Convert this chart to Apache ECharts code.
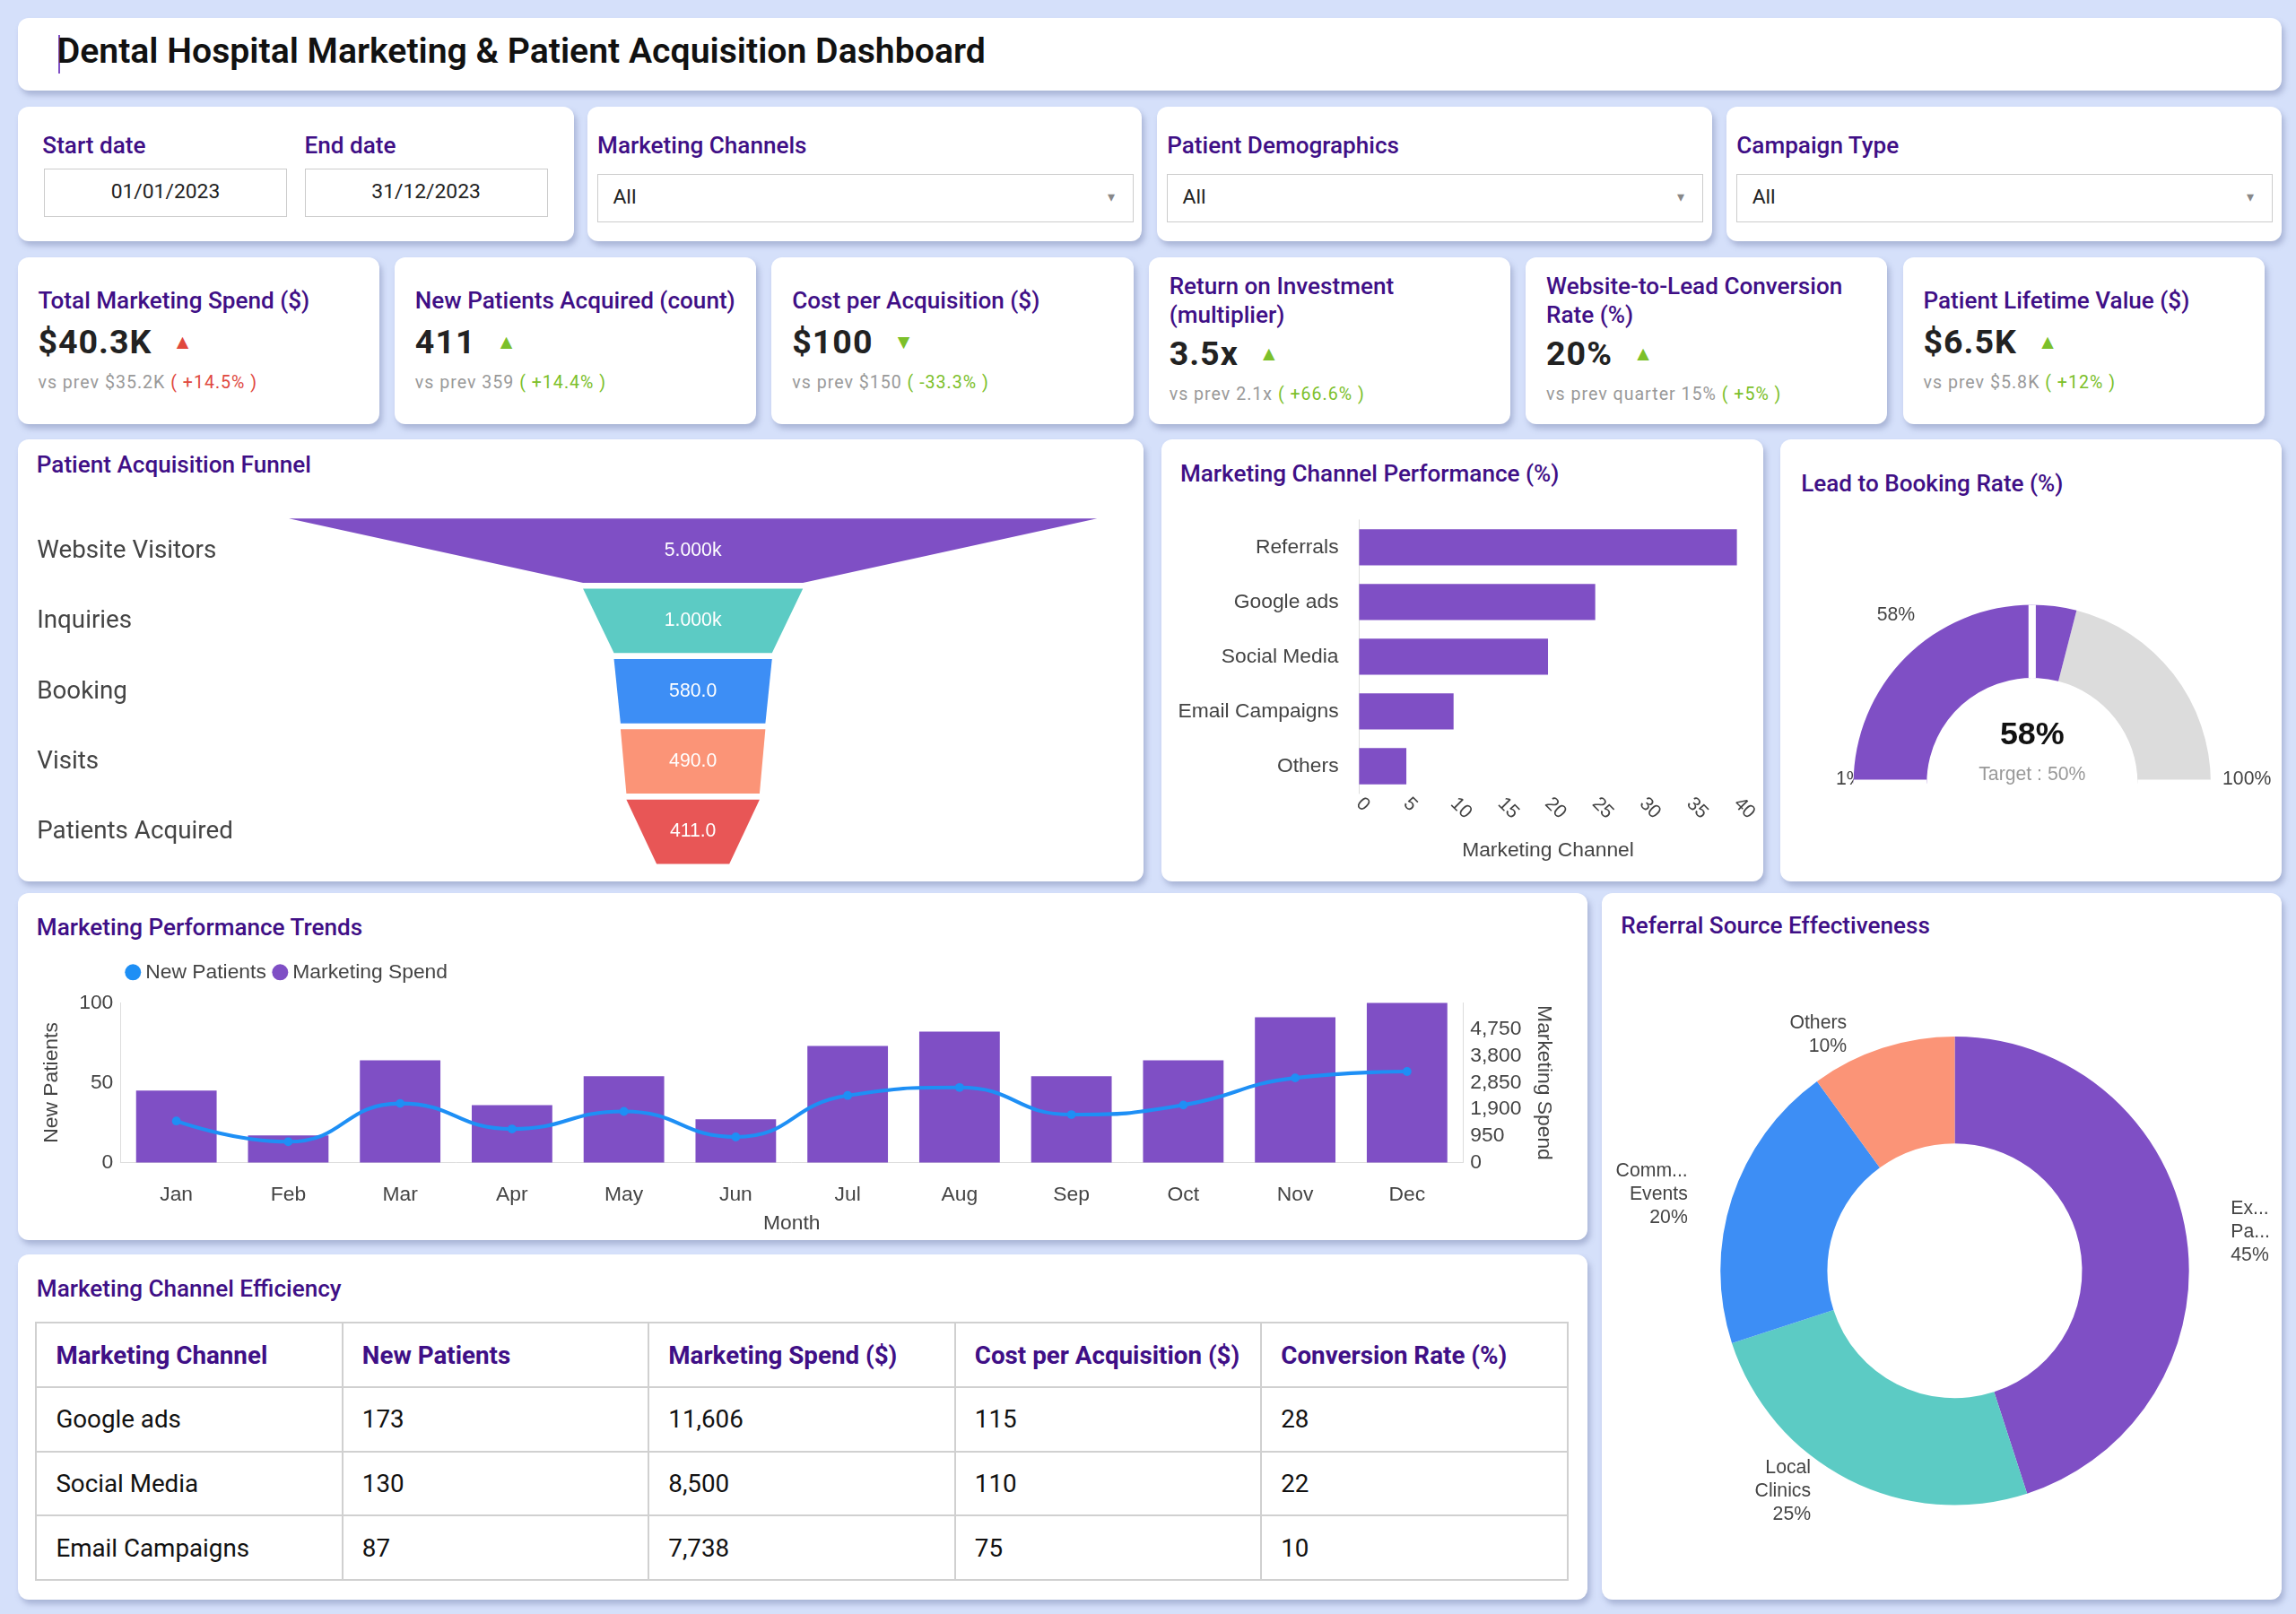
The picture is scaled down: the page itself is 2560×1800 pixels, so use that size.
<!DOCTYPE html>
<html>
<head>
<meta charset="utf-8">
<script src="https://cdn.jsdelivr.net/npm/echarts@6/dist/echarts.min.js"></script>
<style>
  body { margin: 0; background: #d5e0fa; font-family: Roboto, "Noto Sans", sans-serif; }
  #root { position: relative; width: 2560px; height: 1800px; overflow: hidden; }
  .panel { position: absolute; background: #fff; border-radius: 12px; box-shadow: 3px 5px 6px rgba(90,100,150,0.35); box-sizing: border-box; }
  .ttl { position: absolute; color: #3f0f86; font-weight: 500; }
  .abs { position: absolute; }
  table { border-collapse: collapse; }
  td, th { border: 2px solid #d0d0d0; text-align: left; }
  th { color: #3f0f86; font-weight: 700; }
</style>
</head>
<body>
<div id="root"></div>
<script>
// scale from the sketch coordinates to the 2560 px page
const S = 2560 / 1568

// ---- data ----
const funnelStages = ['Website Visitors', 'Inquiries', 'Booking', 'Visits', 'Patients Acquired']
const funnelValues = [5000, 1000, 580, 490, 411]
const funnelLabels = ['5.000k', '1.000k', '580.0', '490.0', '411.0']
const funnelColors = ['#7f4fc5', '#5ccbc4', '#3d8ef5', '#fb9477', '#e85656']

const channelNames = ['Referrals', 'Google ads', 'Social Media', 'Email Campaigns', 'Others']
const channelPerf = [40, 25, 20, 10, 5]

const bookingRate = 58
const bookingTarget = 50

const months = ['Jan', 'Feb', 'Mar', 'Apr', 'May', 'Jun', 'Jul', 'Aug', 'Sep', 'Oct', 'Nov', 'Dec']
const newPatients = [26, 13, 37, 21, 32, 16, 42, 47, 30, 36, 53, 57]
const marketingSpend = [2570, 970, 3650, 2050, 3080, 1540, 4160, 4670, 3080, 3650, 5190, 5700]

const referralNames = ['Existing Patients', 'Local Clinics', 'Community Events', 'Others']
const referralShare = [45, 25, 20, 10]
const referralColors = ['#7f4fc5', '#5ccbc4', '#3d8ef5', '#fb9477']

const tableHead = ['Marketing Channel', 'New Patients', 'Marketing Spend ($)', 'Cost per Acquisition ($)', 'Conversion Rate (%)']
const tableRows = [
  ['Google ads', '173', '11,606', '115', '28'],
  ['Social Media', '130', '8,500', '110', '22'],
  ['Email Campaigns', '87', '7,738', '75', '10']
]

const kpis = [
  { t: 'Total Marketing Spend ($)', v: '$40.3K', up: true, bad: true, prev: 'vs prev $35.2K', d: '+14.5%' },
  { t: 'New Patients Acquired (count)', v: '411', up: true, prev: 'vs prev 359', d: '+14.4%' },
  { t: 'Cost per Acquisition ($)', v: '$100', up: false, prev: 'vs prev $150', d: '-33.3%' },
  { t: 'Return on Investment (multiplier)', v: '3.5x', up: true, prev: 'vs prev 2.1x', d: '+66.6%' },
  { t: 'Website-to-Lead Conversion Rate (%)', v: '20%', up: true, prev: 'vs prev quarter 15%', d: '+5%' },
  { t: 'Patient Lifetime Value ($)', v: '$6.5K', up: true, prev: 'vs prev $5.8K', d: '+12%' }
]

const root = document.getElementById('root')
function box(x, y, w, h, cls, parent) {
  const d = document.createElement('div')
  d.className = cls || 'abs'
  d.style.left = x * S + 'px'; d.style.top = y * S + 'px'
  if (w) d.style.width = w * S + 'px'
  if (h) d.style.height = h * S + 'px'
  ;(parent || root).appendChild(d)
  return d
}
function title(p, x, y, text, size) {
  const t = box(x, y, null, null, 'ttl', p)
  t.style.fontSize = (size || 16) * S + 'px'
  t.textContent = text
  return t
}

// header
const head = box(12, 12, 1546, 50, 'panel')
head.innerHTML = '<div style="position:absolute;left:' + 28 * S + 'px;top:' + 12 * S + 'px;width:2px;height:' + 26 * S + 'px;background:#7f4fc5"></div>'
const ht = title(head, 27, 9, 'Dental Hospital Marketing & Patient Acquisition Dashboard', 24)
ht.style.color = '#111'; ht.style.fontWeight = '600'

// filters
const fp = box(12, 73, 380, 92, 'panel')
title(fp, 17, 17, 'Start date')
title(fp, 196, 17, 'End date')
function inputBox(p, x, y, w, text, center) {
  const b = box(x, y, w, 33, 'abs', p)
  b.style.border = '1px solid #ccc'; b.style.boxSizing = 'border-box'
  b.style.fontSize = 14 * S + 'px'; b.style.color = '#222'
  b.style.lineHeight = 31 * S + 'px'
  if (center) b.style.textAlign = 'center'
  else { b.style.paddingLeft = 10 * S + 'px'; b.innerHTML = text + '<span style="position:absolute;right:' + 12 * S + 'px;color:#888;font-size:' + 10 * S + 'px">&#9662;</span>'; return }
  b.textContent = text
}
inputBox(fp, 18, 42, 166, '01/01/2023', true)
inputBox(fp, 196, 42, 166, '31/12/2023', true)
const filters = [[401, 'Marketing Channels'], [790, 'Patient Demographics'], [1179, 'Campaign Type']]
filters.forEach(f => {
  const p = box(f[0], 73, 379, 92, 'panel')
  title(p, 7, 17, f[1])
  inputBox(p, 7, 46, 366, 'All', false)
})

// KPI cards
kpis.forEach((k, i) => {
  const x = 12 + i * 257.5
  const p = box(x, 176, 247, 114, 'panel')
  const two = k.t.length > 30
  const t = title(p, 14, two ? 10 : 20, k.t)
  t.style.width = 220 * S + 'px'; t.style.lineHeight = 1.22
  const vy = two ? 52 : 44
  const v = box(14, vy, null, null, 'abs', p)
  const col = k.bad ? '#e0483e' : '#7cc02a'
  v.innerHTML = '<span style="font-size:' + 23 * S + 'px;font-weight:700;color:#222;letter-spacing:1px">' + k.v + '</span>' +
    '<span style="color:' + col + ';font-size:' + 14 * S + 'px;margin-left:' + 14 * S + 'px;position:relative;top:-' + 3 * S + 'px">' + (k.up ? '&#9650;' : '&#9660;') + '</span>'
  const c = box(14, vy + 34, null, null, 'abs', p)
  c.style.fontSize = 12 * S + 'px'; c.style.color = '#999'; c.style.letterSpacing = '1px'
  c.innerHTML = k.prev + ' <span style="color:' + col + '">( ' + k.d + ' )</span>'
})

// row 3 panels
const pf = box(12, 300, 769, 302, 'panel'); title(pf, 13, 8, 'Patient Acquisition Funnel')
const pc = box(793, 300, 411, 302, 'panel'); title(pc, 13, 14, 'Marketing Channel Performance (%)')
const pg = box(1216, 300, 342, 302, 'panel'); title(pg, 14, 21, 'Lead to Booking Rate (%)')
const pt = box(12, 610, 1072, 237, 'panel'); title(pt, 13, 14, 'Marketing Performance Trends')
const pd = box(1094, 610, 464, 483, 'panel'); title(pd, 13, 13, 'Referral Source Effectiveness')
const pb = box(12, 857, 1072, 236, 'panel'); title(pb, 13, 14, 'Marketing Channel Efficiency')

function chartIn(p, x, y, w, h) {
  const d = box(x, y, w, h, 'abs', p)
  return echarts.init(d)
}
const F = v => v * S
const gray = '#444'

// funnel
const cf = chartIn(pf, 0, 0, 769, 302)
cf.setOption({
  animation: false,
  graphic: funnelStages.map((n, i) => ({
    type: 'text', left: F(13), top: F(68 + i * 48),
    style: { text: n, fontSize: F(17), fill: gray, fontFamily: 'Roboto' }
  })),
  series: [{
    type: 'funnel', sort: 'none', left: F(185), width: F(552), top: F(54), height: F(236),
    min: 0, max: 5000, minSize: '9%', gap: F(4),
    data: funnelValues.map((v, i) => ({ value: v, name: funnelStages[i], itemStyle: { color: funnelColors[i] } })),
    label: { position: 'inside', color: '#fff', fontSize: F(13), formatter: p => funnelLabels[p.dataIndex] },
    itemStyle: { borderWidth: 0 }
  }]
})

// channel performance
const cc = chartIn(pc, 0, 0, 411, 302)
cc.setOption({
  animation: false,
  grid: { left: F(135), right: F(18), top: F(55), bottom: F(60) },
  xAxis: {
    type: 'value', min: 0, max: 40, interval: 5, name: 'Marketing Channel', nameLocation: 'middle', nameGap: F(32),
    nameTextStyle: { fontSize: F(14), color: gray },
    axisLabel: { rotate: -45, fontSize: F(13), color: gray }, splitLine: { show: false }
  },
  yAxis: {
    type: 'category', inverse: true, data: channelNames,
    axisLabel: { fontSize: F(14), color: gray, margin: F(14) }, axisTick: { show: false },
    axisLine: { lineStyle: { color: '#ddd' } }
  },
  series: [{ type: 'bar', data: channelPerf, barWidth: '66%', itemStyle: { color: '#7f4fc5' } }]
})

// gauge
const cg = chartIn(pg, 0, 0, 342, 302)
cg.setOption({
  animation: false,
  graphic: [
    { type: 'text', left: F(38), top: F(226), style: { text: '1%', fontSize: F(13), fill: gray } },
    { type: 'text', left: F(302), top: F(226), style: { text: '100%', fontSize: F(13), fill: gray } },
    { type: 'text', left: F(66), top: F(114), style: { text: bookingRate + '%', fontSize: F(13), fill: gray } }
  ],
  series: [{
    type: 'gauge', startAngle: 180, endAngle: 0, min: 0, max: 100, splitNumber: 2,
    center: [F(172), F(235)], radius: F(122),
    axisLine: { lineStyle: { width: F(50), color: [[bookingRate / 100, '#7f4fc5'], [1, '#dcdcdc']] } },
    splitLine: { distance: -F(50), length: F(50), lineStyle: { color: '#fff', width: F(5) } },
    axisTick: { show: false }, axisLabel: { show: false }, pointer: { show: false },
    title: { offsetCenter: [0, -F(6)], fontSize: F(13), color: '#999' },
    detail: { offsetCenter: [0, -F(33)], fontSize: F(22), fontWeight: 'bold', color: '#111', formatter: '{value}%' },
    data: [{ value: bookingRate, name: 'Target : ' + bookingTarget + '%' }]
  }]
})

// trends
const ct = chartIn(pt, 0, 0, 1072, 237)
ct.setOption({
  animation: false,
  legend: {
    left: F(70), top: F(44), itemWidth: F(11), itemHeight: F(11), itemGap: F(4), icon: 'circle',
    textStyle: { fontSize: F(14), color: gray },
    data: ['New Patients', 'Marketing Spend']
  },
  grid: { left: F(70), right: F(85), top: F(75), bottom: F(53) },
  xAxis: {
    type: 'category', data: months, name: 'Month', nameLocation: 'middle', nameGap: F(35),
    nameTextStyle: { fontSize: F(14), color: gray },
    axisLabel: { fontSize: F(14), color: gray, margin: F(15) }, axisTick: { show: false },
    axisLine: { lineStyle: { color: '#ddd' } }
  },
  yAxis: [
    {
      type: 'value', min: 0, max: 100, interval: 50, name: 'New Patients', nameLocation: 'middle', nameGap: F(40),
      nameTextStyle: { fontSize: F(14), color: gray }, axisLabel: { fontSize: F(14), color: gray },
      splitLine: { show: false }, axisLine: { show: true, lineStyle: { color: '#ddd' } }
    },
    {
      type: 'value', min: 0, max: 5700, interval: 950, name: 'Marketing Spend', nameLocation: 'middle', nameGap: F(48),
      nameRotate: -90, nameTextStyle: { fontSize: F(14), color: gray },
      axisLabel: { fontSize: F(14), color: gray, formatter: v => v === 5700 ? '' : v.toLocaleString('en-US') },
      splitLine: { show: false }, axisLine: { show: true, lineStyle: { color: '#ddd' } }
    }
  ],
  series: [
    { name: 'Marketing Spend', type: 'bar', yAxisIndex: 1, data: marketingSpend, barWidth: '72%', itemStyle: { color: '#7f4fc5' } },
    {
      name: 'New Patients', type: 'line', smooth: true, data: newPatients, symbol: 'circle', symbolSize: F(6),
      itemStyle: { color: '#1e8ff5' }, lineStyle: { width: F(2.5) }
    }
  ]
})

// donut
const cd = chartIn(pd, 0, 0, 464, 483)
cd.setOption({
  animation: false,
  series: [{
    type: 'pie', radius: [F(87), F(160)], center: [F(241), F(258)], startAngle: 90,
    data: referralShare.map((v, i) => ({ value: v, name: referralNames[i], itemStyle: { color: referralColors[i] } })),
    label: {
      fontSize: F(13), color: gray, lineHeight: F(16),
      formatter: p => p.name.replace(' ', '\n') + '\n' + p.value + '%'
    },
    labelLine: { show: false }
  }]
})

// table
const tb = box(12, 46, 1047, 177, 'abs', pb)
let h = '<table style="width:100%;height:100%;font-size:' + 17 * S + 'px;color:#111">'
h += '<tr>' + tableHead.map(c => '<th style="padding-left:' + 13 * S + 'px;width:20%">' + c + '</th>').join('') + '</tr>'
tableRows.forEach(r => { h += '<tr>' + r.map(c => '<td style="padding-left:' + 13 * S + 'px">' + c + '</td>').join('') + '</tr>' })
tb.innerHTML = h + '</table>'
</script>
</body>
</html>
